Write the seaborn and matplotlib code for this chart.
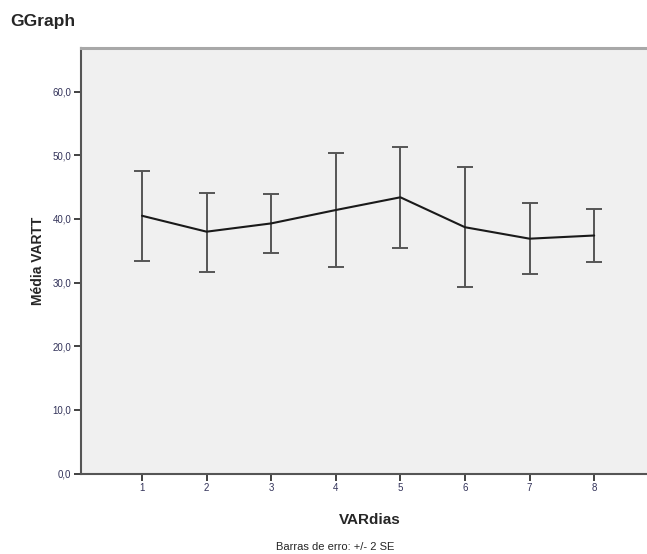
import matplotlib
matplotlib.use('agg')
import seaborn as sns
import matplotlib.pyplot as plt
import pandas as pd

# values
dias = [1, 2, 3, 4, 5, 6, 7, 8]
media = [40.5, 38.0, 39.3, 41.4, 43.4, 38.7, 36.9, 37.4]
lower = [33.4, 31.7, 34.6, 32.5, 35.5, 29.3, 31.3, 33.2]
upper = [47.6, 44.1, 43.9, 50.3, 51.3, 48.1, 42.5, 41.5]
y_ticks = [0, 10, 20, 30, 40, 50, 60]
y_tick_labels = ['0,0', '10,0', '20,0', '30,0', '40,0', '50,0', '60,0']

sns.set_style('white', {'axes.facecolor': '#f0f0f0'})
plt.rcParams['font.family'] = ['Liberation Sans', 'DejaVu Sans']

df = pd.DataFrame({'VARdias': dias, 'media': media, 'lo': lower, 'hi': upper})

fig = plt.figure(figsize=(6.47, 5.54), dpi=100)
ax = fig.add_axes([0.1252, 0.145, 0.893, 0.769])

yerr = [df['media'] - df['lo'], df['hi'] - df['media']]
ax.errorbar(df['VARdias'], df['media'], yerr=yerr, fmt='none',
            ecolor='#555555', elinewidth=1.4, capsize=6, capthick=1.4, zorder=2)
sns.lineplot(data=df, x='VARdias', y='media', color='#1a1a1a', linewidth=1.5,
             errorbar=None, ax=ax, zorder=3)

ax.set_xlim(0.056, 9.0)
ax.set_ylim(0, 66.9)
ax.set_xticks(dias)
ax.set_xticklabels([str(d) for d in dias])
ax.set_yticks(y_ticks)
ax.set_yticklabels(y_tick_labels)
ax.tick_params(axis='both', which='major', bottom=True, left=True,
               direction='out', length=5, width=1.3,
               color='#333333', labelsize=7, labelcolor='#33335a', pad=2)

for side in ['left', 'bottom']:
    ax.spines[side].set_color('#555555')
    ax.spines[side].set_linewidth(1.5)
ax.spines['top'].set_color('#a8a8a8')
ax.spines['top'].set_linewidth(2.2)
ax.spines['right'].set_visible(False)

ax.set_xlabel('VARdias', fontsize=11, fontweight='bold', labelpad=14)
ax.set_ylabel('Média VARTT', fontsize=10, fontweight='bold', labelpad=5)

fig.text(0.016, 0.962, 'GGraph', fontsize=12.5, fontweight='bold', va='center')
fig.text(0.518, 0.003, 'Barras de erro: +/- 2 SE', fontsize=8, ha='center', va='bottom')

fig.savefig('out.png', dpi=100)
